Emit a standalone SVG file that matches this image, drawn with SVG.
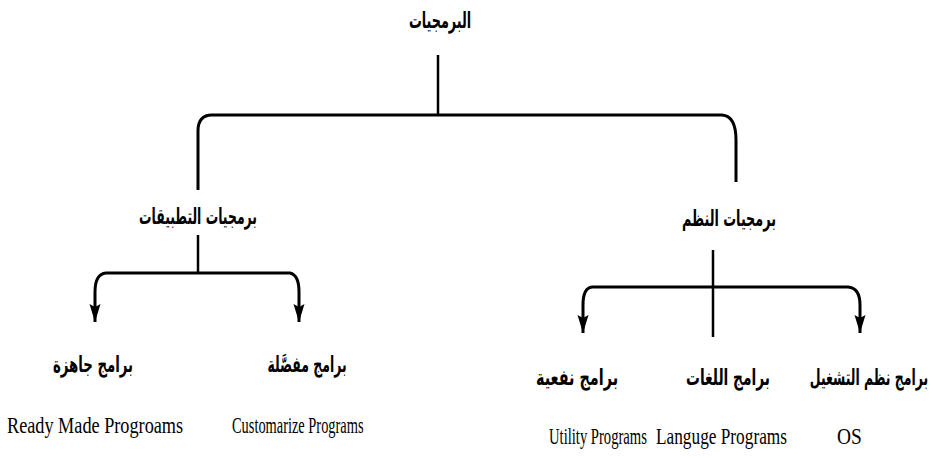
<svg xmlns="http://www.w3.org/2000/svg" width="933" height="458" viewBox="0 0 933 458">
  <style>
    .ar { font-family: "DejaVu Sans", "Noto Sans", sans-serif; font-size: 22px; font-weight: bold; fill: #000; text-anchor: middle; direction: rtl; }
    .en { font-family: "Liberation Serif", "DejaVu Serif", serif; font-size: 24px; fill: #000; }
    .bar { fill: none; stroke: #000; stroke-width: 3; stroke-linejoin: round; }
    .stem { fill: none; stroke: #000; stroke-width: 2.5; }
  </style>
  <defs>
    <marker id="arrow" markerUnits="userSpaceOnUse" markerWidth="20" markerHeight="14" viewBox="0 -7 20 14" refX="18" refY="0" orient="auto">
      <path d="M0,-5.5 L18,0 L0,5.5 L3,0 z" fill="#000"/>
    </marker>
  </defs>
  <rect width="933" height="458" fill="#fff"/>

  <g id="connectors">
    <!-- root down to the two main branches -->
    <path class="stem" d="M438,55 V115"/>
    <path class="bar" d="M438,115 H212 Q198,115 198,131 V190"/>
    <path class="bar" d="M438,115 H722 Q736,116 736,140 V182"/>
    <!-- application software branches -->
    <path class="stem" d="M198,235 V273"/>
    <path class="bar" d="M198,273 H106 Q95,274 95,292 V322" marker-end="url(#arrow)"/>
    <path class="bar" d="M198,273 H290 Q299,275 299,292 V322" marker-end="url(#arrow)"/>
    <!-- system software branches -->
    <path class="stem" d="M713,250 V337"/>
    <path class="bar" d="M713,287 H592 Q583,288 583,305 V333" marker-end="url(#arrow)"/>
    <path class="bar" d="M713,287 H848 Q860,288 860,305 V333" marker-end="url(#arrow)"/>
  </g>

  <!-- Arabic labels are narrowed horizontally to a compact Naskh-like width -->
  <g id="software">
    <text class="ar" transform="translate(440,28) scale(0.58,1)">البرمجيات</text>
  </g>
  <g id="application-software">
    <text class="ar" transform="translate(198,224) scale(0.565,1)">برمجيات التطبيقات</text>
  </g>
  <g id="system-software">
    <text class="ar" transform="translate(729,226) scale(0.58,1)">برمجيات النظم</text>
  </g>
  <g id="ready-made">
    <text class="ar" transform="translate(93,372) scale(0.605,1)">برامج جاهزة</text>
    <text class="en" transform="translate(7,433) scale(0.76,1)">Ready Made Progroams</text>
  </g>
  <g id="customized">
    <text class="ar" transform="translate(307,372) scale(0.565,1)">برامج مفصَّلة</text>
    <text class="en" transform="translate(232,433) scale(0.6,1)">Customarize Programs</text>
  </g>
  <g id="utility">
    <text class="ar" transform="translate(577,385) scale(0.655,1)">برامج نفعية</text>
    <text class="en" transform="translate(549,444) scale(0.61,1)">Utility Programs</text>
  </g>
  <g id="language">
    <text class="ar" transform="translate(728,385) scale(0.625,1)">برامج اللغات</text>
    <text class="en" transform="translate(656,444) scale(0.72,1)">Languge Programs</text>
  </g>
  <g id="os">
    <text class="ar" transform="translate(869,385) scale(0.565,1)">برامج نظم التشغيل</text>
    <text class="en" transform="translate(837,444) scale(0.81,1)">OS</text>
  </g>
</svg>
